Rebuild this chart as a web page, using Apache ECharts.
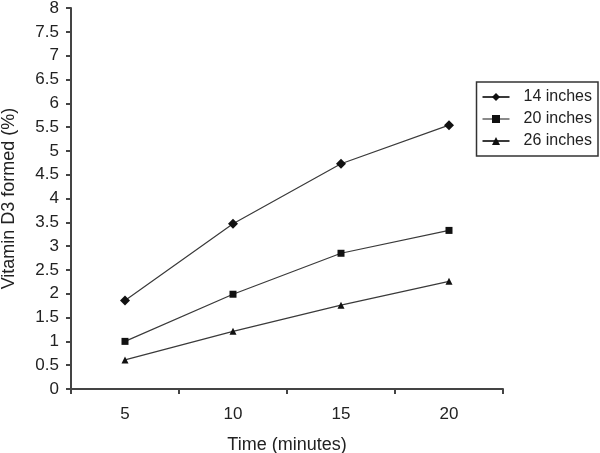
<!DOCTYPE html>
<html><head><meta charset="utf-8">
<script src="https://cdn.jsdelivr.net/npm/echarts@6/dist/echarts.min.js"></script>
<style>html,body{margin:0;padding:0;background:#fff}#c{width:600px;height:453px}</style>
</head><body><div id="c"></div>
<script>
const categories = ['5', '10', '15', '20'];
const s14 = [1.86, 3.47, 4.73, 5.54];
const s20 = [1.0, 1.99, 2.85, 3.33];
const s26 = [0.61, 1.21, 1.76, 2.26];
const seriesNames = ['14 inches', '20 inches', '26 inches'];

const font = 'Liberation Sans, Arial, Helvetica, sans-serif';
const chart = echarts.init(document.getElementById('c'));
function mk(name, data, sym, size) {
  return {
    name, type: 'line', data, symbol: sym, symbolSize: size,
    lineStyle: { color: '#3a3a3a', width: 1.2 },
    itemStyle: { color: '#111' },
    animation: false
  };
}
chart.setOption({
  backgroundColor: '#fff',
  animation: false,
  grid: { left: 71, right: 97, top: 8, bottom: 64, containLabel: false, outerBoundsMode: 'none' },
  legend: {
    orient: 'vertical', right: 2, top: 82,
    data: [
      { name: seriesNames[0] },
      { name: seriesNames[1], lineStyle: { color: '#8a8a8a' } },
      { name: seriesNames[2] }
    ],
    borderColor: '#333', borderWidth: 1.5, borderRadius: 0,
    padding: [7, 6, 7, 5], itemGap: 6, itemWidth: 27, itemHeight: 10,
    textStyle: { fontFamily: font, fontSize: 16, color: '#222', lineHeight: 16, padding: [0, 0, 0, 9] }
  },
  xAxis: {
    type: 'category', data: categories, boundaryGap: true,
    name: 'Time (minutes)', nameLocation: 'middle', nameGap: 47,
    nameTextStyle: { fontFamily: font, fontSize: 18, color: '#222' },
    axisLine: { lineStyle: { color: '#444', width: 2 } },
    axisTick: { show: true, length: 5, lineStyle: { color: '#444', width: 2 } },
    axisLabel: { fontFamily: font, fontSize: 17, color: '#222', margin: 17 }
  },
  yAxis: {
    type: 'value', min: 0, max: 8, interval: 0.5,
    name: 'Vitamin D3 formed (%)', nameLocation: 'middle', nameGap: 53,
    nameTextStyle: { fontFamily: font, fontSize: 18, color: '#222' },
    splitLine: { show: false },
    axisLine: { show: true, lineStyle: { color: '#444', width: 2 } },
    axisTick: { show: true, length: 5, lineStyle: { color: '#444', width: 2 } },
    axisLabel: { fontFamily: font, fontSize: 17, color: '#222', margin: 12 }
  },
  series: [
    mk(seriesNames[0], s14, 'diamond', 10),
    mk(seriesNames[1], s20, 'rect', 7),
    mk(seriesNames[2], s26, 'triangle', 7)
  ]
});
</script></body></html>
